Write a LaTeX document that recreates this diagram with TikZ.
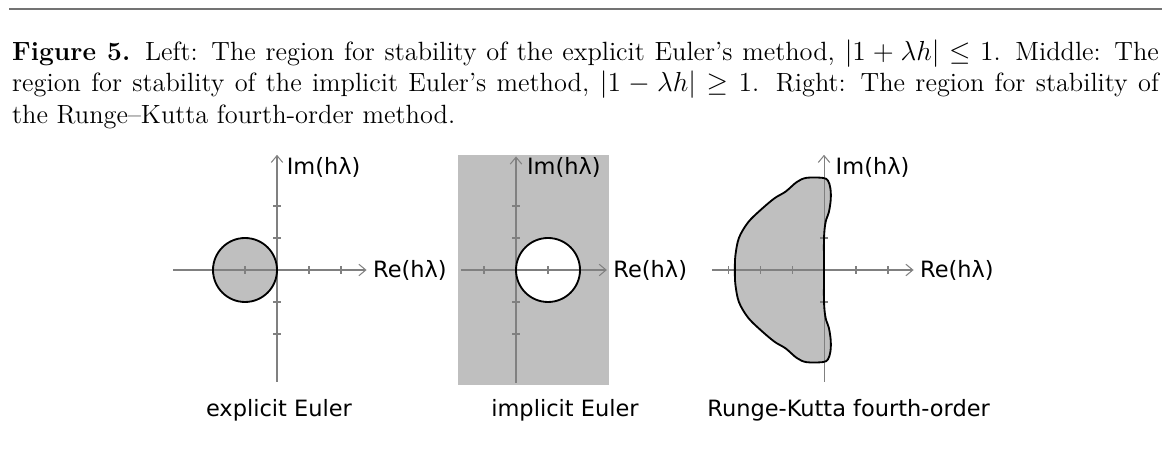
\documentclass[tikz,border=0pt]{standalone}
\usepackage{fontspec}
\usepackage{amsmath,amssymb}
\usetikzlibrary{arrows.meta}
\newfontfamily\labelfont{DejaVu Sans}
% Rand des Stabilitaetsgebiets (RK4), Einheiten der Achsen
\newcommand{\rkrand}{plot[smooth cycle, tension=0.55] coordinates {
  (0,0) (0,1) (0.05,1.5) (0.15,1.8) (0.21,2.2) (0.2,2.55) (0.12,2.8)
  (-0.05,2.88) (-0.55,2.88) (-0.85,2.75) (-1.2,2.45) (-1.55,2.24)
  (-2.0,1.86) (-2.38,1.48) (-2.66,1.0) (-2.77,0.45) (-2.785,0)
  (-2.77,-0.45) (-2.66,-1.0) (-2.38,-1.48) (-2.0,-1.86) (-1.55,-2.24)
  (-1.2,-2.45) (-0.85,-2.75) (-0.55,-2.88) (-0.05,-2.88) (0.12,-2.8)
  (0.2,-2.55) (0.21,-2.2) (0.15,-1.8) (0.05,-1.5) (0,-1)}}

\begin{document}
\begin{tikzpicture}[x=0.436pt, y=-0.436pt,
		>={Straight Barb[length=3pt,width=5pt]},   %Pfeilspitzen
		axis/.style={draw=black!50, line width=0.45pt},
		rand/.style={draw=black, line width=0.8pt},
		gebiet/.style={fill=black!25},
		lbl/.style={font=\labelfont\fontsize{9.8}{12}\selectfont, inner sep=1pt},
		ebene/.style={x=13.95pt, y=13.95pt}]
		\useasboundingbox (0,0) rectangle (1162,474);
		% Linie und Bildunterschrift
		\draw[line width=0.9pt, black!55] (9,9) -- (1162,9);
		\node[anchor=north west, inner sep=0pt, text width=500pt, align=justify,
			font=\fontsize{11.5}{13.9}\selectfont] (caption) at (11.7,39)
			{\textbf{Figure 5.} Left: The region for stability of the explicit Euler's method, $|1+\lambda h|\le 1$. Middle: The\linebreak
			region for stability of the implicit Euler's method, $|1-\lambda h|\ge 1$. Right: The region for stability of\linebreak
			the Runge--Kutta fourth-order method.};
		% links: explizites Euler-Verfahren
		\begin{scope}[shift={(277,270)}, ebene]
			\fill[gebiet] (-1,0) circle [radius=1];
			\draw[axis,->] (-3.25,0) -- (2.8,0);
			\draw[axis,->] (0,-3.5) -- (0,3.6);
			\foreach \x in {-2,-1,1,2} \draw[axis] (\x,-.125) -- (\x,.125);
			\foreach \y in {-2,-1,1,2} \draw[axis] (-.125,\y) -- (.125,\y);
			\draw[rand] (-1,0) circle [radius=1];
			\node[lbl, anchor=west] (reL) at (2.92,0) {Re(hλ)};
			\node[lbl, anchor=west] (imL) at (0.22,3.22) {Im(hλ)};
			\node[lbl] (nameL) at (0.06,-4.375) {explicit Euler};
		\end{scope}
		% Mitte: implizites Euler-Verfahren
		\begin{scope}[shift={(516,270)}, ebene]
			\fill[gebiet] (-1.81,-3.6) rectangle (2.91,3.6);
			\fill[white] (1,0) circle [radius=1];
			\draw[axis,->] (-1.72,0) -- (2.84,0);
			\draw[axis,->] (0,-3.53) -- (0,3.55);
			\foreach \x in {-1,1,2} \draw[axis] (\x,-.125) -- (\x,.125);
			\foreach \y in {-2,-1,1,2} \draw[axis] (-.125,\y) -- (.125,\y);
			\draw[rand] (1,0) circle [radius=1];
			\node[lbl, anchor=west] (reM) at (2.96,0) {Re(hλ)};
			\node[lbl, anchor=west] (imM) at (0.26,3.22) {Im(hλ)};
			\node[lbl] (nameM) at (1.53,-4.375) {implicit Euler};
		\end{scope}
		% rechts: Runge-Kutta vierter Ordnung
		\begin{scope}[shift={(824,270)}, ebene]
			\fill[gebiet] \rkrand;
			\draw[axis,->] (-3.5,0) -- (2.8,0);
			\draw[axis,->] (0,-3.5) -- (0,3.6);
			\foreach \x in {-3,-2,-1,1,2} \draw[axis] (\x,-.125) -- (\x,.125);
			\foreach \y in {-1,1} \draw[axis] (-.125,\y) -- (.125,\y);
			\draw[rand] \rkrand;
			\node[lbl, anchor=west] (reR) at (2.92,0) {Re(hλ)};
			\node[lbl, anchor=west] (imR) at (0.28,3.22) {Im(hλ)};
			\node[lbl] (nameR) at (0.77,-4.375) {Runge-Kutta fourth-order};
		\end{scope}
	\end{tikzpicture}
\end{document}
